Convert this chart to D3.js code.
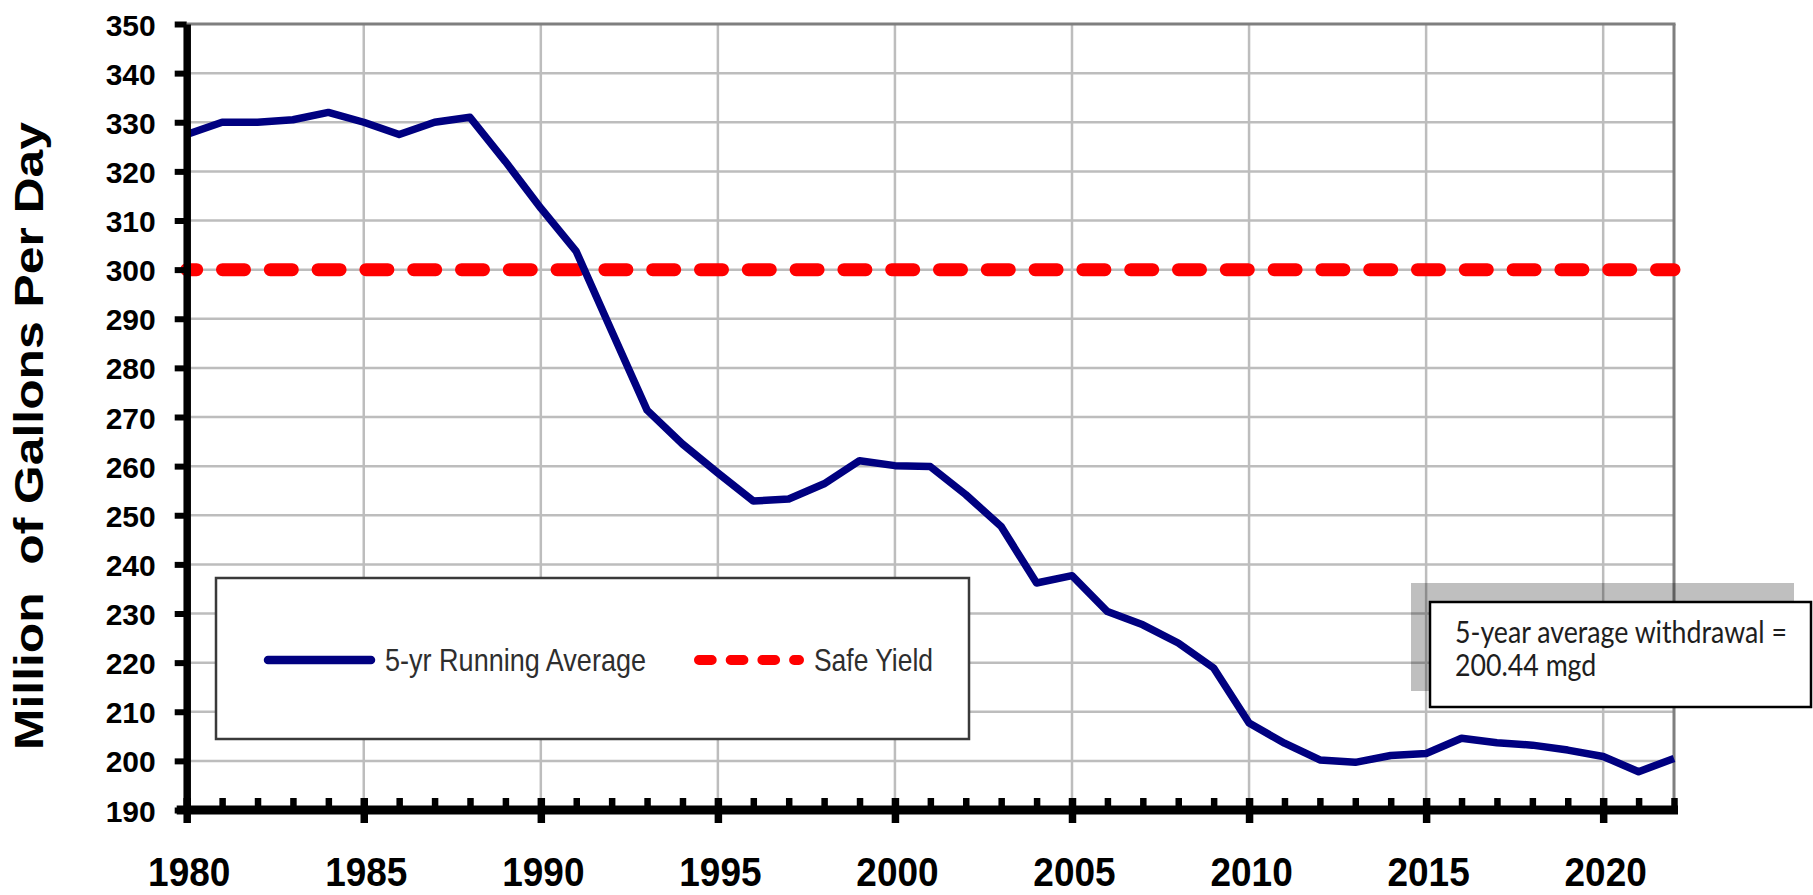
<!DOCTYPE html>
<html>
<head>
<meta charset="utf-8">
<script src="https://cdn.jsdelivr.net/npm/d3@7"></script>
<style>
  html, body { margin: 0; padding: 0; background: #fff; }
  svg { display: block; }
</style>
</head>
<body>
<svg id="chart" width="1813" height="895"></svg>
<script>
// ---- data ----
const years = [1980,1981,1982,1983,1984,1985,1986,1987,1988,1989,
               1990,1991,1992,1993,1994,1995,1996,1997,1998,1999,
               2000,2001,2002,2003,2004,2005,2006,2007,2008,2009,
               2010,2011,2012,2013,2014,2015,2016,2017,2018,2019,
               2020,2021,2022];
const runningAvg = [327.5,330,330,330.5,332,330,327.5,330,331,322,
                    312.5,303.7,287.5,271.4,264.5,258.6,252.9,253.3,256.4,261.1,
                    260.1,259.9,254.2,247.7,236.2,237.7,230.4,227.7,224,218.9,
                    207.7,203.6,200.2,199.7,201.1,201.5,204.6,203.7,203.2,202.2,
                    200.9,197.8,200.5];
const safeYield = 300;
const yTicks = [190,200,210,220,230,240,250,260,270,280,290,300,310,320,330,340,350];
const xMajorTicks = [1980,1985,1990,1995,2000,2005,2010,2015,2020];
const seriesNames = ["5-yr Running Average", "Safe Yield"];
const yTitle = "Million  of Gallons Per Day";
const noteLines = ["5-year average withdrawal =", "200.44 mgd"];

// ---- layout ----
const svg = d3.select("#chart");
const L = 186.7, R = 1674, T = 24, B = 810;
const x = d3.scaleLinear().domain([1980, 2022]).range([L, R]);
const y = d3.scaleLinear().domain([190, 350]).range([B, T]);

const gridColor = "#bdbdbd";

// gridlines
svg.append("g").selectAll("line").data(yTicks.filter(v => v > 190 && v < 350)).join("line")
  .attr("x1", L).attr("x2", R).attr("y1", d => y(d)).attr("y2", d => y(d))
  .attr("stroke", gridColor).attr("stroke-width", 2.5);
svg.append("g").selectAll("line").data(xMajorTicks.filter(v => v > 1980)).join("line")
  .attr("x1", d => x(d)).attr("x2", d => x(d)).attr("y1", T).attr("y2", B)
  .attr("stroke", gridColor).attr("stroke-width", 2.5);
// top and right border
svg.append("line").attr("x1", L).attr("x2", R + 1.5).attr("y1", y(350)).attr("y2", y(350))
  .attr("stroke", "#7f7f7f").attr("stroke-width", 3);
svg.append("line").attr("x1", x(2022)).attr("x2", x(2022)).attr("y1", T).attr("y2", B)
  .attr("stroke", "#7f7f7f").attr("stroke-width", 3);

// safe yield line
svg.append("line")
  .attr("x1", x(1980)).attr("x2", x(2022))
  .attr("y1", y(safeYield)).attr("y2", y(safeYield))
  .attr("stroke", "#ff0000").attr("stroke-width", 13)
  .attr("stroke-linecap", "round")
  .attr("stroke-dasharray", "22 25.8")
  .attr("stroke-dashoffset", 12);

// running average line
const line = d3.line().x((d, i) => x(years[i])).y(d => y(d));
svg.append("path").datum(runningAvg)
  .attr("d", line)
  .attr("fill", "none").attr("stroke", "#000080")
  .attr("stroke-width", 7.5).attr("stroke-linejoin", "round");

// y axis
const yAxis = d3.axisLeft(y).tickValues(yTicks).tickSize(12).tickSizeOuter(0).tickPadding(19);
const gy = svg.append("g").attr("transform", `translate(${L},0)`).call(yAxis);
gy.select(".domain").attr("stroke", "#000").attr("stroke-width", 7.5);
gy.selectAll(".tick line").attr("stroke", "#000").attr("stroke-width", 6);
gy.selectAll(".tick text")
  .attr("font-family", "'Liberation Sans', Arial, sans-serif")
  .attr("font-weight", "bold").attr("font-size", 30).attr("fill", "#000")
  .attr("dy", null).attr("y", 11);

// x axis: minor ticks (every year, upward)
const gxMinor = svg.append("g").attr("transform", `translate(0,${B})`)
  .call(d3.axisBottom(x).tickValues(years).tickSize(-12).tickSizeOuter(0).tickFormat(""));
gxMinor.select(".domain").remove();
gxMinor.selectAll(".tick line").attr("stroke", "#000").attr("stroke-width", 6.5);

// x axis: major ticks + labels
const gx = svg.append("g").attr("transform", `translate(0,${B})`)
  .call(d3.axisBottom(x).tickValues(xMajorTicks).tickSize(13).tickSizeOuter(0).tickFormat(d3.format("d")));
gx.select(".domain").attr("stroke", "#000").attr("stroke-width", 9)
  .attr("d", `M${L - 10},0H${R + 4}`);
gx.selectAll(".tick line").attr("stroke", "#000").attr("stroke-width", 7.5).attr("y1", -12);
gx.selectAll(".tick text")
  .attr("font-family", "'Liberation Sans', Arial, sans-serif")
  .attr("font-weight", "bold").attr("font-size", 37).attr("fill", "#000")
  .attr("y", 0).attr("dy", null)
  .attr("transform", "translate(2,76) scale(1,1.1)");

// y title
svg.append("text")
  .attr("transform", `translate(43,436) rotate(-90)`)
  .attr("text-anchor", "middle")
  .attr("font-family", "'Liberation Sans', Arial, sans-serif")
  .attr("font-weight", "bold").attr("font-size", 41)
  .attr("textLength", 628).attr("lengthAdjust", "spacingAndGlyphs")
  .style("white-space", "pre")
  .text(yTitle);

// legend
const lg = svg.append("g");
lg.append("rect").attr("x", 216).attr("y", 578).attr("width", 753).attr("height", 161)
  .attr("fill", "#fff").attr("stroke", "#3a3a3a").attr("stroke-width", 2.5);
lg.append("line").attr("x1", 268).attr("x2", 371).attr("y1", 660).attr("y2", 660)
  .attr("stroke", "#000080").attr("stroke-width", 8.5).attr("stroke-linecap", "round");
lg.append("text").attr("x", 385).attr("y", 671)
  .attr("font-family", "'Liberation Sans', Arial, sans-serif")
  .attr("font-size", 32).attr("fill", "#2e2e2e")
  .attr("textLength", 261).attr("lengthAdjust", "spacingAndGlyphs")
  .text(seriesNames[0]);
lg.append("line").attr("x1", 699).attr("x2", 799).attr("y1", 660).attr("y2", 660)
  .attr("stroke", "#ff0000").attr("stroke-width", 10).attr("stroke-linecap", "round")
  .attr("stroke-dasharray", "12.7 19");
lg.append("text").attr("x", 814).attr("y", 671)
  .attr("font-family", "'Liberation Sans', Arial, sans-serif")
  .attr("font-size", 32).attr("fill", "#2e2e2e")
  .attr("textLength", 119).attr("lengthAdjust", "spacingAndGlyphs")
  .text(seriesNames[1]);

// annotation
const an = svg.append("g");
an.append("rect").attr("x", 1411).attr("y", 583).attr("width", 383).attr("height", 108)
  .attr("fill", "#000").attr("fill-opacity", 0.25);
an.append("rect").attr("x", 1430).attr("y", 602).attr("width", 381).attr("height", 105)
  .attr("fill", "#fff").attr("stroke", "#000").attr("stroke-width", 2.5);
const t1 = an.append("text").attr("x", 0).attr("y", 0)
  .attr("transform", "translate(1455,643) scale(1,1.15)")
  .attr("font-family", "Lato, 'Open Sans', sans-serif").attr("font-size", 28)
  .attr("fill", "#1e1e1e").text(noteLines[0]);
const w = t1.node().getComputedTextLength();
const fs = 28 * 332 / w;
t1.attr("font-size", fs);
an.append("text").attr("x", 0).attr("y", 0)
  .attr("transform", "translate(1455,676) scale(1,1.15)")
  .attr("font-family", "Lato, 'Open Sans', sans-serif").attr("font-size", fs)
  .attr("fill", "#1e1e1e").text(noteLines[1]);
</script>
</body>
</html>
